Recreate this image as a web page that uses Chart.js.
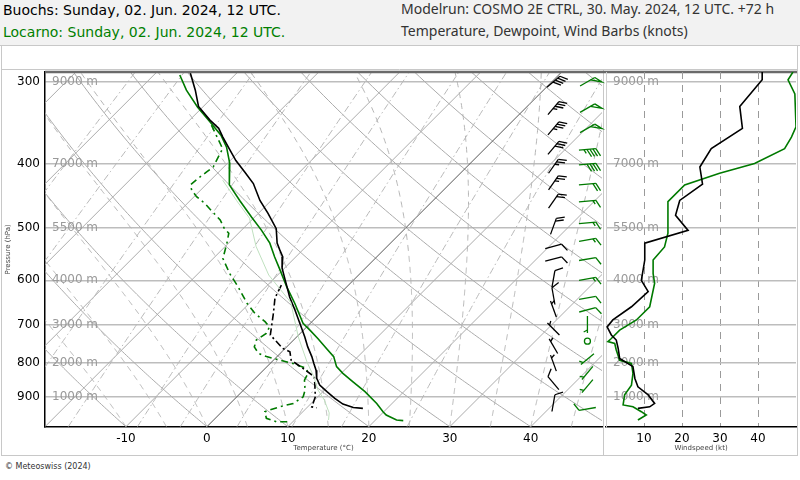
<!DOCTYPE html>
<html><head><meta charset="utf-8">
<script src="https://cdn.jsdelivr.net/npm/chart.js@4.4.1/dist/chart.umd.min.js"></script>
<style>
html,body{margin:0;padding:0;background:#fff;}
body{width:800px;height:480px;position:relative;overflow:hidden;font-family:"DejaVu Sans",sans-serif;}
#hdr{position:absolute;left:0;top:0;width:800px;height:45px;background:#f2f2f2;border-bottom:1px solid #c8c8c8;}
.t{position:absolute;font-size:14px;line-height:16px;white-space:nowrap;}
.r{font-family:"Noto Sans",sans-serif;color:#333;}
#foot{position:absolute;left:5px;top:462px;font-size:8px;color:#333;}
canvas{position:absolute;left:0;top:0;}
</style></head><body>
<div id="hdr">
 <div class="t" style="left:3px;top:2px;color:#000">Buochs: Sunday, 02. Jun. 2024, 12 UTC.</div>
 <div class="t" style="left:3px;top:24px;color:#008000">Locarno: Sunday, 02. Jun. 2024, 12 UTC.</div>
 <div class="t r" style="left:401px;top:1px;">Modelrun: COSMO 2E CTRL, 30. May. 2024, 12 UTC. +72 h</div>
 <div class="t r" style="left:401px;top:23px;">Temperature, Dewpoint, Wind Barbs (knots)</div>
</div>
<div id="foot">© Meteoswiss (2024)</div>
<canvas id="c1" width="800" height="480"></canvas>
<canvas id="c2" width="800" height="480"></canvas>
<script>
// ---------------- data ----------------
const ISOBARS = [300,400,500,600,700,800,900];
const HEIGHT_LABELS = ['9000 m','7000 m','5500 m','4000 m','3000 m','2000 m','1000 m'];
const TEMP_TICKS = [-10,0,10,20,30,40];
const WIND_TICKS = [10,20,30,40];

// Buochs temperature (hPa, °C)
const BUOCHS_T_P = [290,309,327,343,353,364,381,395,411,428,454,475,501,527,540,553,575,600,636,666,697,731,757,783,802,821,845,865,885,906,924,935,938];
const BUOCHS_T   = [-45.9,-43.0,-40.6,-37.5,-35.4,-33.8,-31.3,-29.3,-26.8,-24.3,-21.4,-18.8,-15.9,-14.0,-12.8,-11.6,-10.3,-8.4,-5.8,-3.5,-1.3,1.0,2.6,4.3,5.4,6.5,7.6,8.8,10.5,12.3,14.0,15.7,17.0];
// Buochs dewpoint
const BUOCHS_TD_P = [610,638,673,726,761,770,793,821,840,865,901,933,936];
const BUOCHS_TD   = [-8.3,-7.5,-5.8,-3.5,-0.3,1.0,2.2,5.2,7.1,8.2,9.7,10.5,11.2];
// Locarno temperature
const LOCARNO_T_P = [293,309,328,345,362,377,399,430,454,481,504,527,553,579,614,650,697,714,735,761,783,811,830,855,885,922,949,960,977,979];
const LOCARNO_T   = [-46.8,-44.1,-40.6,-37.3,-34.2,-32.1,-29.7,-27.1,-23.9,-20.4,-17.5,-14.9,-12.6,-10.3,-7.4,-4.4,-0.9,0.8,2.8,5.1,7.0,8.6,10.2,12.5,15.2,18.1,19.9,20.7,22.6,23.5];
// Locarno dewpoint
const LOCARNO_TD_P = [349,379,395,404,411,418,430,438,448,459,470,486,501,509,527,556,586,614,650,673,693,706,722,739,757,774,783,793,802,816,830,850,880,901,922,933,949,971,983,983];
const LOCARNO_TD   = [-36.7,-32.4,-31.7,-31.3,-31.5,-31.7,-31.9,-31.1,-29.7,-27.8,-26.2,-23.9,-22.3,-21.2,-20.2,-18.8,-16.1,-13.4,-10.3,-8.1,-5.8,-4.6,-4.2,-4.6,-4.0,-2.7,-1.3,0.8,2.8,5.1,5.9,6.3,7.6,8.2,7.8,6.5,5.3,6.3,8.0,9.4];
// faint light-green profile
const FAINT_P = [423,454,483,533,589,648,731,800,841,880,911,953,977];
const FAINT_T = [-28.5,-24.3,-20.5,-16.2,-11.1,-5.0,0.2,4.5,7.1,9.2,11.2,13.4,14.2];

// wind speed profiles (hPa, kt)
const BUOCHS_WS_P = [290,298,327,353,379,404,429,454,478,504,527,559,600,624,658,689,706,726,739,761,788,811,845,870,895,922,933,938];
const BUOCHS_WS   = [41.1,41.1,35.2,35.9,27.7,24.7,25.4,19.4,18.3,21.6,10.2,10.2,9.3,11.1,6.7,1.8,0.3,1.4,2.7,3.2,3.6,7.1,7.6,8.4,11.1,12.8,11.5,8.4];
const LOCARNO_WS_P = [290,298,313,351,364,379,399,413,430,456,509,534,559,586,606,658,689,714,735,743,748,765,793,802,830,865,895,927,933,949,960,977];
const LOCARNO_WS   = [49.2,47.9,49.7,50.0,48.8,47.0,39.1,29.9,20.7,16.3,16.3,15.4,12.4,12.4,12.8,11.5,8.0,3.6,1.4,0.5,2.3,2.7,3.6,6.7,7.1,6.7,4.9,4.5,7.1,9.3,10.6,8.4];

// wind barbs (hPa, kt, direction deg)
const BUOCHS_BARB_P   = [300,329,353,378,403,427,455,497,533,557,597,634,663,711,755,801,859,921];
const BUOCHS_BARB_SPD = [40,35,35,28,25,25,20,20,10,10,10,11,7,3,3,4,8,12];
const BUOCHS_BARB_DIR = [50,40,40,40,35,35,35,20,75,75,10,350,340,315,330,340,320,10];
const LOCARNO_BARB_P   = [300,329,353,380,400,429,455,491,521,557,597,638,665,700,742,790,829,868,940];
const LOCARNO_BARB_SPD = [50,50,50,47,39,21,16,16,15,12,13,11,10,5,0,3,7,6,8];
const LOCARNO_BARB_DIR = [60,60,60,85,85,85,85,85,80,80,80,80,75,180,0,230,220,220,260];

// ---------------- layout / helpers ----------------
const PMIN = 290, PMAX = 1000, XMIN = -20, XMAX = 48.8;
const AREA = {left:45, right:602, top:72, bottom:426.7};
const SKEW = ((AREA.bottom-AREA.top)/Math.log(PMAX/PMIN)) / ((AREA.right-AREA.left)/(XMAX-XMIN));
const skewX = (t,p) => t + SKEW*Math.log(1000/p);
const prof = (P,T) => P.map((p,i)=>({x: skewX(T[i],p), y: p}));
const wprof = (P,S) => P.map((p,i)=>({x: S[i], y: p}));
const BARB_COL = {buochs: 42.8, locarno: 47.0}; // skewed-x units
const GREEN = '#007a00';

function es(tc){return 6.112*Math.exp(17.67*tc/(tc+243.5));}
function polyline(ctx, pts){ctx.beginPath(); pts.forEach((q,i)=> i?ctx.lineTo(q[0],q[1]):ctx.moveTo(q[0],q[1])); ctx.stroke();}

const skewBackground = {
  id:'skewBg',
  beforeDatasetsDraw(chart){
    const {ctx, chartArea:a, scales:{x,y}} = chart;
    const px = (t,p)=>[x.getPixelForValue(skewX(t,p)), y.getPixelForValue(p)];
    ctx.save();
    ctx.beginPath(); ctx.rect(a.left,a.top,a.right-a.left,a.bottom-a.top); ctx.clip();
    const plist=[]; for(let p=1000;p>=285;p-=5) plist.push(p);
    ctx.strokeStyle='#ababab'; ctx.lineWidth=1; ctx.setLineDash([]);
    for(let th=-60; th<=200; th+=10){
      polyline(ctx, plist.map(p=>px((th+273.15)*Math.pow(p/1000,0.2857)-273.15,p)));
    }
    for(let t=-120;t<=50;t+=10){
      ctx.strokeStyle = t===0 ? '#555' : '#ababab';
      polyline(ctx,[px(t,PMAX),px(t,PMIN)]);
    }
    ctx.strokeStyle='#b4b4b4'; ctx.setLineDash([6,5]);
    for(let t0=-10;t0<=45;t0+=5){
      let T=t0+273.15, p=1000; const pts=[px(t0,p)];
      while(p>285){
        const e=es(T-273.15), rs=0.622*e/(p-e);
        const d=(287.04*T+2.501e6*rs)/(1005.7+2.501e6*2.501e6*rs*0.622/(287.04*T*T))/p;
        T-=d*2; p-=2; pts.push(px(T-273.15,p));
      }
      polyline(ctx,pts);
    }
    ctx.strokeStyle='#b8b8b8'; ctx.setLineDash([7,3,1.5,3]);
    [0.1,0.2,0.5,1,2,3,5,8,12,20].forEach(w=>{
      polyline(ctx, plist.map(p=>{const e=p*w/(622+w); const l=Math.log(e/6.112); return px(243.5*l/(17.67-l),p);}));
    });
    ctx.restore();
  }
};

function drawBarb(ctx,cx,cy,spd,dir,color){
  ctx.save(); ctx.strokeStyle=color; ctx.fillStyle=color; ctx.lineWidth=1.3; ctx.setLineDash([]);
  if(spd<2.5){ctx.beginPath(); ctx.arc(cx,cy,3,0,Math.PI*2); ctx.stroke(); ctx.restore(); return;}
  const L=17, FL=8.5, SP=3;
  const a=dir*Math.PI/180, ux=Math.sin(a), uy=-Math.cos(a);
  const bx=cx-ux*L/2, by=cy-uy*L/2, tx=cx+ux*L/2, ty=cy+uy*L/2;
  const ph=62*Math.PI/180, fx=ux*Math.cos(ph)-uy*Math.sin(ph), fy=ux*Math.sin(ph)+uy*Math.cos(ph);
  ctx.beginPath(); ctx.moveTo(bx,by); ctx.lineTo(tx,ty); ctx.stroke();
  let s=Math.round(spd/5)*5, pos=0;
  while(s>=50){
    const x0=tx-ux*pos, y0=ty-uy*pos, x1=tx-ux*(pos+5), y1=ty-uy*(pos+5);
    ctx.beginPath(); ctx.moveTo(x0,y0); ctx.lineTo(x0+fx*FL,y0+fy*FL); ctx.lineTo(x1,y1); ctx.stroke();
    pos+=6; s-=50;
  }
  while(s>=10){
    const x0=tx-ux*pos, y0=ty-uy*pos;
    ctx.beginPath(); ctx.moveTo(x0,y0); ctx.lineTo(x0+fx*FL,y0+fy*FL); ctx.stroke();
    pos+=SP; s-=10;
  }
  if(s>=5){
    if(pos===0) pos=SP;
    const x0=tx-ux*pos, y0=ty-uy*pos;
    ctx.beginPath(); ctx.moveTo(x0,y0); ctx.lineTo(x0+fx*FL/2,y0+fy*FL/2); ctx.stroke();
  }
  ctx.restore();
}

const barbs = {
  id:'barbs',
  afterDatasetsDraw(chart){
    const {ctx, scales:{x,y}} = chart;
    BUOCHS_BARB_P.forEach((p,i)=>drawBarb(ctx,x.getPixelForValue(BARB_COL.buochs),y.getPixelForValue(p),BUOCHS_BARB_SPD[i],BUOCHS_BARB_DIR[i],'#000'));
    LOCARNO_BARB_P.forEach((p,i)=>drawBarb(ctx,x.getPixelForValue(BARB_COL.locarno),y.getPixelForValue(p),LOCARNO_BARB_SPD[i],LOCARNO_BARB_DIR[i],GREEN));
  }
};

function heightLabels(id){
  return {
    id,
    beforeDatasetsDraw(chart){
      const {ctx, chartArea:a, scales:{y}} = chart;
      ctx.save(); ctx.font='12px "DejaVu Sans"'; ctx.fillStyle='#9a9a9a'; ctx.textBaseline='middle';
      ISOBARS.forEach((p,i)=>ctx.fillText(HEIGHT_LABELS[i], a.left+7, y.getPixelForValue(p)));
      ctx.restore();
    }
  };
}

const frame = {
  id:'frame',
  beforeDraw(chart){
    const ctx=chart.ctx; ctx.save(); ctx.strokeStyle='#c8c8c8'; ctx.lineWidth=1;
    ctx.strokeRect(1.5,45.5,796,410);
    ctx.beginPath(); ctx.moveTo(2,69.5); ctx.lineTo(797,69.5); ctx.stroke();
    ctx.beginPath(); ctx.moveTo(603.5,69.5); ctx.lineTo(603.5,455); ctx.stroke();
    ctx.restore();
  },
  afterDraw(chart){
    const ctx=chart.ctx; ctx.save(); ctx.strokeStyle='#6a6a6a'; ctx.lineWidth=2.5;
    ctx.beginPath(); ctx.moveTo(45,72); ctx.lineTo(797,72); ctx.stroke(); ctx.restore();
  }
};

const yTicks = s => { s.ticks = ISOBARS.map(v=>({value:v})); };
const smallTitle = (text, pad) => ({display:true, text, color:'#444', font:{size:7, family:'DejaVu Sans'}, padding:pad});

new Chart(document.getElementById('c1'), {
  type:'line',
  data:{datasets:[
    {data:prof(FAINT_P,FAINT_T), borderColor:'#bfe0bf', borderWidth:1},
    {data:prof(BUOCHS_TD_P,BUOCHS_TD), borderColor:'#000', borderWidth:1.6, borderDash:[7,3,2,3]},
    {data:prof(LOCARNO_TD_P,LOCARNO_TD), borderColor:GREEN, borderWidth:1.6, borderDash:[7,4,2,4]},
    {data:prof(BUOCHS_T_P,BUOCHS_T), borderColor:'#000', borderWidth:1.6},
    {data:prof(LOCARNO_T_P,LOCARNO_T), borderColor:GREEN, borderWidth:1.6}
  ]},
  options:{
    responsive:false, animation:false, devicePixelRatio:1,
    layout:{padding:{left:0, top:AREA.top, right:800-AREA.right, bottom:0}},
    elements:{point:{radius:0}, line:{tension:0}},
    plugins:{legend:{display:false}, tooltip:{enabled:false}},
    scales:{
      x:{type:'linear', min:XMIN, max:XMAX,
         afterBuildTicks:s=>{s.ticks=TEMP_TICKS.map(v=>({value:v}));},
         afterFit:s=>{s.height=480-AREA.bottom;},
         grid:{display:false, drawTicks:false},
         border:{display:true, color:'#000', width:1.5},
         ticks:{color:'#000', font:{size:12, family:'DejaVu Sans'}, padding:5, maxRotation:0},
         title:smallTitle('Temperature (°C)', {top:0,bottom:28})},
      y:{type:'logarithmic', min:PMIN, max:PMAX, reverse:true,
         afterBuildTicks:yTicks,
         afterFit:s=>{s.width=AREA.left;},
         grid:{color:'#bdbdbd', lineWidth:1.5, drawTicks:false},
         border:{display:true, color:'#000', width:1.5},
         ticks:{color:'#000', font:{size:12, family:'DejaVu Sans'}, padding:5, callback:v=>String(v)},
         title:smallTitle('Pressure (hPa)', {top:4,bottom:0})}
    }
  },
  plugins:[frame, skewBackground, heightLabels('hl1'), barbs]
});

new Chart(document.getElementById('c2'), {
  type:'line',
  data:{datasets:[
    {data:wprof(BUOCHS_WS_P,BUOCHS_WS), borderColor:'#000', borderWidth:1.6},
    {data:wprof(LOCARNO_WS_P,LOCARNO_WS), borderColor:GREEN, borderWidth:1.6}
  ]},
  options:{
    responsive:false, animation:false, devicePixelRatio:1,
    layout:{padding:{left:606, top:AREA.top, right:4, bottom:0}},
    elements:{point:{radius:0}, line:{tension:0}},
    plugins:{legend:{display:false}, tooltip:{enabled:false}},
    scales:{
      x:{type:'linear', min:0, max:50,
         afterBuildTicks:s=>{s.ticks=WIND_TICKS.map(v=>({value:v}));},
         afterFit:s=>{s.height=480-AREA.bottom;},
         grid:{color:'#9a9a9a', lineWidth:1, drawTicks:false},
         border:{display:true, color:'#000', width:1.5, dash:[7,6]},
         ticks:{color:'#000', font:{size:12, family:'DejaVu Sans'}, padding:5, maxRotation:0},
         title:smallTitle('Windspeed (kt)', {top:0,bottom:28})},
      y:{type:'logarithmic', min:PMIN, max:PMAX, reverse:true,
         afterBuildTicks:yTicks,
         afterFit:s=>{s.width=0;},
         grid:{color:'#bdbdbd', lineWidth:1.5, drawTicks:false},
         border:{display:true, color:'#cfcfcf', width:1},
         ticks:{display:false}}
    }
  },
  plugins:[heightLabels('hl2')]
});
</script>
</body></html>
